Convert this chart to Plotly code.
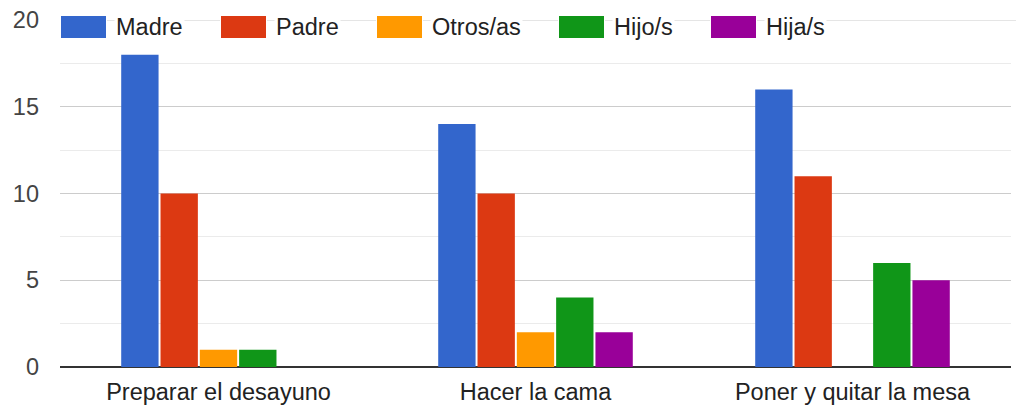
import plotly.graph_objects as go

categories = ["Preparar el desayuno", "Hacer la cama", "Poner y quitar la mesa"]
series_names = ["Madre", "Padre", "Otros/as", "Hijo/s", "Hija/s"]
madre = [18, 14, 16]
padre = [10, 10, 11]
otros = [1, 2, 0]
hijo = [1, 4, 6]
hija = [0, 2, 5]
y_ticks = [0, 5, 10, 15, 20]

colors = ["#3366CC", "#DC3912", "#FF9900", "#109618", "#990099"]
values = [madre, padre, otros, hijo, hija]

# page has an 8px body margin; the figure is sized to fill the rest of the window
OFF = 8
W, H = 1024 - OFF, 410 - OFF
ML, MR, MT, MB = 60 - OFF, 13, 20 - OFF, 43
PW, PH = W - ML - MR, H - MT - MB

fig = go.Figure()
for name, vals, col in zip(series_names, values, colors):
    fig.add_trace(go.Bar(x=categories, y=vals, name=name, marker_color=col,
                         marker_line_width=0, showlegend=False))

# custom legend (page pixel positions converted to paper coords)
leg_sq_x = [61, 221, 377, 559, 711]
sq_w, sq_top, sq_bot, leg_cy = 45, 16, 38, 27
def px_x(p):
    return (p - OFF - ML) / PW
def px_y(p):
    return (MT + PH - (p - OFF)) / PH

# top gridline (edge of range) so it shows behind the legend like the reference
shapes = [dict(type="line", xref="paper", yref="y", x0=0, x1=1 + MR / PW,
               y0=max(y_ticks), y1=max(y_ticks), line=dict(color="#cccccc", width=1), layer="below")]
annotations = []
for name, col, x0 in zip(series_names, colors, leg_sq_x):
    shapes.append(dict(type="rect", xref="paper", yref="paper",
                       x0=px_x(x0 - 1), x1=px_x(x0 + sq_w + 1), y0=px_y(sq_bot + 1), y1=px_y(sq_top - 1),
                       fillcolor="white", line=dict(width=0), layer="above"))
    shapes.append(dict(type="rect", xref="paper", yref="paper",
                       x0=px_x(x0), x1=px_x(x0 + sq_w), y0=px_y(sq_bot), y1=px_y(sq_top),
                       fillcolor=col, line=dict(width=0), layer="above"))
    annotations.append(dict(xref="paper", yref="paper", x=px_x(x0 + sq_w + 8), y=px_y(leg_cy),
                            xanchor="left", yanchor="middle", text=name, showarrow=False,
                            bgcolor="white", borderpad=1,
                            font=dict(size=23.5, color="#222222")))

fig.update_layout(
    width=W, height=H,
    margin=dict(l=ML, r=MR, t=MT, b=MB, autoexpand=False),
    paper_bgcolor="white", plot_bgcolor="white",
    barmode="group", bargap=0.38, bargroupgap=0.05,
    font=dict(family="Liberation Sans, Arial, sans-serif", size=23.5, color="#222222"),
    shapes=shapes, annotations=annotations,
    xaxis=dict(showgrid=False, showline=False, ticks="", automargin=False, ticklabelstandoff=8,
               ticklabeloverflow="allow", tickfont=dict(size=23.5, color="#222222")),
    yaxis=dict(range=[0, 20], tickvals=y_ticks, showgrid=True, gridcolor="#cccccc", gridwidth=1,
               minor=dict(dtick=2.5, showgrid=True, gridcolor="#ebebeb", gridwidth=1),
               zeroline=True, zerolinecolor="#333333", zerolinewidth=1.5,
               showline=False, ticks="", ticklabelstandoff=20, automargin=False,
               ticklabeloverflow="allow", tickfont=dict(size=23.5, color="#444444")),
)

fig.write_html("out.html")
